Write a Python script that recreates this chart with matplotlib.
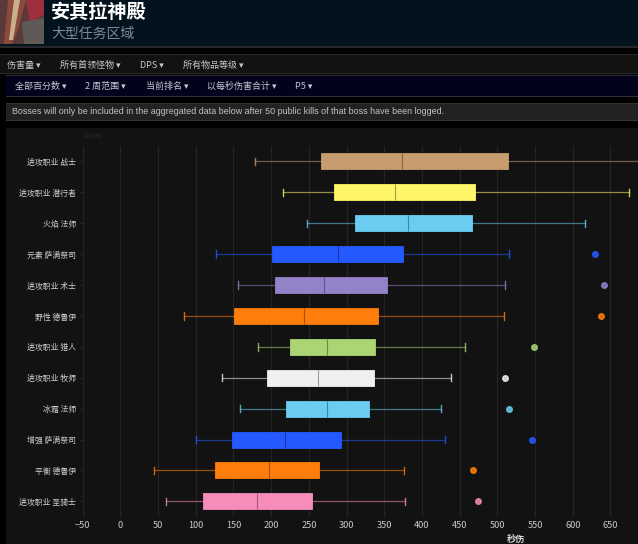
import matplotlib
matplotlib.use('Agg')
import matplotlib.pyplot as plt
from matplotlib.patches import Rectangle, Polygon

plt.rcParams['font.family'] = ['Noto Sans CJK SC', 'DejaVu Sans']

# 数据
specs = ['进攻职业 战士', '进攻职业 潜行者', '火焰 法师', '元素 萨满祭司', '进攻职业 术士', '野性 德鲁伊',
         '进攻职业 猎人', '进攻职业 牧师', '冰霜 法师', '增强 萨满祭司', '平衡 德鲁伊', '进攻职业 圣骑士']
whislo = [179, 215, 248, 127, 156, 85, 182, 135, 159, 100, 44, 60]
q1 = [266, 283, 311, 201, 205, 151, 225, 194, 219, 148, 125, 110]
med = [373, 364, 382, 288, 270, 243, 274, 262, 274, 218, 197, 181]
q3 = [514, 470, 466, 375, 353, 342, 338, 336, 330, 293, 264, 254]
whishi = [700, 674, 616, 515, 510, 509, 457, 439, 425, 430, 376, 377]
outliers = [None, None, None, 630, 642, 637, 548, 510, 515, 546, 468, 474]
colors = ['#C79C6E', '#FFF569', '#69CCF0', '#2459FF', '#9482C9', '#FF7D0A',
          '#ABD473', '#F0F0F0', '#69CCF0', '#2459FF', '#FF7D0A', '#F58CBA']
xticks = [-50, 0, 50, 100, 150, 200, 250, 300, 350, 400, 450, 500, 550, 600, 650]
nav1 = [('伤害量 ▾', 7), ('所有首领怪物 ▾', 60), ('DPS ▾', 140), ('所有物品等级 ▾', 183)]
nav2 = [('全部百分数 ▾', 15), ('2 周范围 ▾', 85), ('当前排名 ▾', 146), ('以每秒伤害合计 ▾', 207), ('P5 ▾', 295)]

W, H = 638, 544
fig = plt.figure(figsize=(W / 100, H / 100), dpi=100, facecolor='#000000')

# 页面背景，用像素坐标
bg = fig.add_axes([0, 0, 1, 1])
bg.set_xlim(0, W)
bg.set_ylim(H, 0)
bg.axis('off')


def band(x, y, w, h, c):
    bg.add_patch(Rectangle((x, y), w, h, fc=c, ec='none'))


band(0, 0, W, 46, '#03131E')
band(0, 46, W, 2, '#26282C')
band(0, 54, W, 20, '#141210')
band(0, 54, W, 1, '#2A2A2A')
band(0, 73, W, 1, '#2A2A2A')
band(6, 76, W, 20, '#02021C')
band(6, 75, W, 1, '#2E2E3E')
band(6, 96, W, 1, '#2E2E3E')
band(6, 103, W, 18, '#222222')
band(6, 103, W, 1, '#343434')
band(6, 120, W, 1, '#343434')
band(6, 128, W, H, '#121212')

# 左上角图标
band(0, 0, 44, 44, '#5A3A38')
bg.add_patch(Polygon([(8, 0), (26, 0), (18, 30), (12, 44), (4, 44)], fc='#8C4A3C', ec='none'))
bg.add_patch(Polygon([(14, 0), (20, 0), (13, 40), (9, 40)], fc='#C9B08C', ec='none'))
bg.add_patch(Polygon([(26, 0), (44, 0), (44, 14), (30, 24)], fc='#9E2F3C', ec='none'))
bg.add_patch(Polygon([(22, 22), (44, 18), (44, 44), (24, 44)], fc='#5E5A58', ec='none'))

bg.text(51, 12, '安其拉神殿', color='#FFFFFF', fontsize=13.8, fontweight='bold', va='center')
bg.text(51, 34, '大型任务区域', color='#7C8A92', fontsize=10, va='center')
for label, x in nav1:
    bg.text(x, 65.5, label, color='#C8C8C8', fontsize=6.5, va='center')
for label, x in nav2:
    bg.text(x, 86.5, label, color='#C8C8D0', fontsize=6.5, va='center')
bg.text(12, 112, 'Bosses will only be included in the aggregated data below after 50 public kills of that boss have been logged.',
        color='#C4C4C4', fontsize=6.42, va='center', family='Liberation Sans')
bg.text(83, 136, 'Zoom', color='#2C2C2C', fontsize=5.5, va='center', family='Liberation Sans')

# 箱线图
left, right, top, bottom = 82.7, 638, 146, 516.8
ax = fig.add_axes([left / W, 1 - bottom / H, (right - left) / W, (bottom - top) / H])
ax.set_facecolor('none')

for i, spec in enumerate(specs):
    c = colors[i]
    stats = [{'med': med[i], 'q1': q1[i], 'q3': q3[i], 'whislo': whislo[i], 'whishi': whishi[i],
              'fliers': [] if outliers[i] is None else [outliers[i]], 'label': spec}]
    ax.bxp(stats, positions=[i], widths=0.52, capwidths=0.24, vert=False, patch_artist=True, manage_ticks=False,
           boxprops=dict(facecolor=c, edgecolor=c, linewidth=0.6),
           medianprops=dict(color='#000000', alpha=0.35, linewidth=0.8),
           whiskerprops=dict(color=c, alpha=0.55, linewidth=0.9),
           capprops=dict(color=c, alpha=0.8, linewidth=1.0),
           flierprops=dict(marker='o', markersize=4, markerfacecolor=c, markeredgecolor=c, alpha=0.85))

ax.set_xlim(-50, 686.5)
ax.set_ylim(11.5, -0.5)
ax.set_xticks(xticks)
ax.set_yticks(range(len(specs)))
ax.set_yticklabels(specs)
ax.grid(axis='x', color='#242424', linewidth=0.9)
ax.set_axisbelow(True)
ax.tick_params(axis='x', colors='#C8C8C8', labelsize=6.6, length=0, pad=3)
ax.tick_params(axis='y', colors='#D0D0D0', labelsize=5.7, length=2, color='#262626', pad=3)
ax.tick_params(axis='y', labelcolor='#D0D0D0')
for s in ax.spines.values():
    s.set_visible(False)
ax.set_xlabel('秒伤', color='#D8D8D8', fontsize=6.6, fontweight='bold', labelpad=2)
ax.xaxis.set_label_coords((516 - left) / (right - left), -0.05)

fig.savefig('out.png', dpi=100, facecolor=fig.get_facecolor())
